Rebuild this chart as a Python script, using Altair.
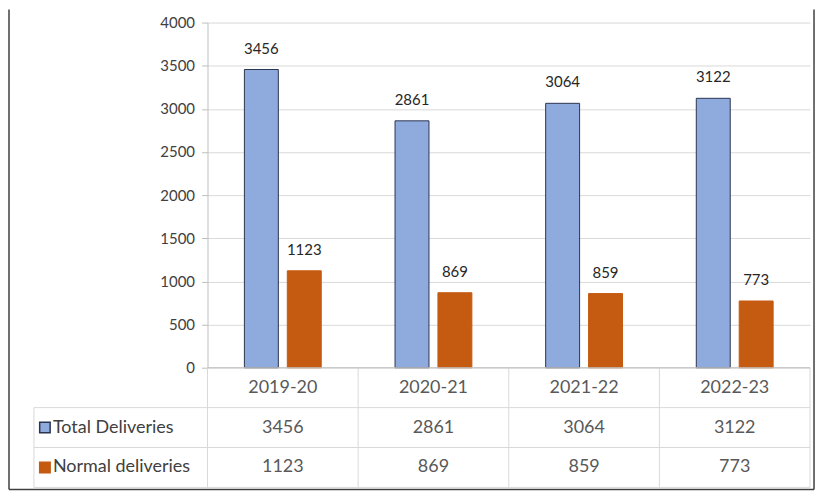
import altair as alt
import pandas as pd

years = ["2019-20", "2020-21", "2021-22", "2022-23"]
total = [3456, 2861, 3064, 3122]
normal = [1123, 869, 859, 773]
series = ["Total Deliveries", "Normal deliveries"]
fills = ["#8FAADC", "#C55A11"]
strokes = ["#2B3550", "#C55A11"]

FONT = "Lato"

rows = []
for y, t, n in zip(years, total, normal):
    rows.append({"year": y, "series": series[0], "value": t})
    rows.append({"year": y, "series": series[1], "value": n})
df = pd.DataFrame(rows)
yeardf = pd.DataFrame({"year": years})

xscale = alt.Scale(paddingInner=0, paddingOuter=0)
top_base = alt.Chart(df).encode(
    x=alt.X("year:N", sort=years, scale=xscale, axis=None),
    xOffset=alt.XOffset("series:N", sort=series,
                        scale=alt.Scale(paddingInner=0.209, paddingOuter=0.86)),
    y=alt.Y("value:Q", scale=alt.Scale(domain=[0, 4000], nice=False),
            axis=alt.Axis(values=list(range(0, 4001, 500)), title=None, format="d",
                          labelFont=FONT, labelFontSize=15, labelColor="#404040",
                          labelPadding=7, tickSize=6, tickColor="#bfbfbf",
                          domainColor="#bfbfbf", gridColor="#d9d9d9")),
)
bars = top_base.mark_bar(strokeWidth=1).encode(
    color=alt.Color("series:N", sort=series,
                    scale=alt.Scale(domain=series, range=fills), legend=None),
    stroke=alt.Stroke("series:N", sort=series,
                      scale=alt.Scale(domain=series, range=strokes), legend=None),
)
labels = top_base.mark_text(baseline="bottom", dy=-13, font=FONT, fontSize=15,
                            color="#262626").encode(text="value:Q")
# outer frame (left, right, bottom), positioned relative to the plot area
frame_l = alt.Chart(yeardf.head(1)).mark_rule(color="#404040", strokeWidth=1.5).encode(
    x=alt.value(-199), y=alt.value(-13), y2=alt.value(468))
frame_r = alt.Chart(yeardf.head(1)).mark_rule(color="#404040", strokeWidth=1.5).encode(
    x=alt.value(608), y=alt.value(-13), y2=alt.value(468))
frame_b = alt.Chart(yeardf.head(1)).mark_rule(color="#404040", strokeWidth=1.5).encode(
    x=alt.value(-199), x2=alt.value(608), y=alt.value(468))
top = alt.layer(bars, labels, frame_l, frame_r, frame_b).properties(width=604, height=346)

# table
row_order = ["hdr"] + series
tbl_rows = []
for i, y in enumerate(years):
    tbl_rows.append({"year": y, "row": "hdr", "txt": y})
    tbl_rows.append({"year": y, "row": series[0], "txt": str(total[i])})
    tbl_rows.append({"year": y, "row": series[1], "txt": str(normal[i])})
tbl = pd.DataFrame(tbl_rows)
rowdf = pd.DataFrame({"row": row_order})
serdf = pd.DataFrame({"row": series})

X = alt.X("year:N", sort=years, scale=xscale, axis=None)
Y = alt.Y("row:N", sort=row_order, scale=alt.Scale(domain=row_order, paddingInner=0, paddingOuter=0), axis=None)

cells = alt.Chart(tbl).mark_text(font=FONT, fontSize=18, color="#595959").encode(
    x=X, y=Y, text="txt:N")
rowlab = alt.Chart(serdf).mark_text(font=FONT, fontSize=18, color="#404040", align="left").encode(
    x=alt.value(-155), y=Y, text="row:N")
keys = alt.Chart(serdf).mark_square(size=110, opacity=1, strokeWidth=1.5).encode(
    x=alt.value(-163), y=Y,
    fill=alt.Fill("row:N", scale=alt.Scale(domain=series, range=fills), legend=None),
    stroke=alt.Stroke("row:N", scale=alt.Scale(domain=series, range=strokes), legend=None),
)
hlines = alt.Chart(rowdf).mark_rule(color="#d9d9d9", strokeWidth=1).encode(
    y=alt.Y("row:N", sort=row_order, bandPosition=1,
            scale=alt.Scale(domain=row_order, paddingInner=0, paddingOuter=0), axis=None),
    x=alt.value(-174), x2=alt.value(604))
vlines = alt.Chart(yeardf).mark_rule(color="#d9d9d9", strokeWidth=1).encode(
    x=alt.X("year:N", sort=years, scale=xscale, axis=None, bandPosition=0),
    y=alt.value(0), y2=alt.value(120))
right_line = alt.Chart(yeardf.head(1)).mark_rule(color="#d9d9d9", strokeWidth=1).encode(
    x=alt.value(604), y=alt.value(0), y2=alt.value(120))
left_line = alt.Chart(yeardf.head(1)).mark_rule(color="#d9d9d9", strokeWidth=1).encode(
    x=alt.value(-174), y=alt.value(40), y2=alt.value(120))
axis_line = alt.Chart(yeardf.head(1)).mark_rule(color="#bfbfbf", strokeWidth=1).encode(
    x=alt.value(0), x2=alt.value(604), y=alt.value(0))

bottom = alt.layer(hlines, vlines, right_line, left_line, axis_line,
                   cells, rowlab, keys).properties(width=604, height=120)

chart = alt.vconcat(top, bottom, spacing=0, bounds="flush").resolve_scale(
    x="independent", y="independent", color="independent", stroke="independent",
    fill="independent", xOffset="independent"
).properties(padding={"left": 0, "top": 0, "right": 6, "bottom": 2}).configure_view(stroke=None)

chart.save("out.html", embed_options={"renderer": "svg", "actions": False})
